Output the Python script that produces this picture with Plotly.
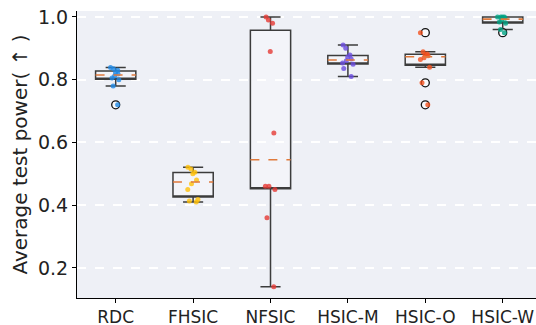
import numpy as np
import plotly.graph_objects as go

methods = ["RDC", "FHSIC", "NFSIC", "HSIC-M", "HSIC-O", "HSIC-W"]
rdc = [0.72, 0.78, 0.80, 0.805, 0.812, 0.818, 0.822, 0.83, 0.835, 0.839]
fhsic = [0.41, 0.413, 0.418, 0.45, 0.468, 0.48, 0.50, 0.505, 0.515, 0.521]
nfsic = [0.14, 0.36, 0.45, 0.46, 0.46, 0.63, 0.89, 0.98, 0.99, 1.0]
hsic_m = [0.81, 0.836, 0.849, 0.853, 0.86, 0.866, 0.872, 0.879, 0.900, 0.911]
hsic_o = [0.72, 0.79, 0.84, 0.864, 0.87, 0.876, 0.88, 0.882, 0.889, 0.95]
hsic_w = [0.95, 0.96, 0.98, 0.984, 0.99, 0.996, 1.0, 1.0, 1.0, 1.0]
series = [rdc, fhsic, nfsic, hsic_m, hsic_o, hsic_w]
colors = ["#1e88e5", "#ffc107", "#e53935", "#6a4ce0", "#f4511e", "#00a383"]
yticks = [0.2, 0.4, 0.6, 0.8, 1.0]

BW = 0.52
BG = "#eef0f6"
fig = go.Figure()
clear = "rgba(0,0,0,0)"

for i, vals in enumerate(series):
    v = np.array(vals)
    q1, med, q3 = np.percentile(v, [25, 50, 75])
    iqr = q3 - q1
    inside = v[(v >= q1 - 1.5 * iqr) & (v <= q3 + 1.5 * iqr)]
    lf, uf = inside.min(), inside.max()
    out = v[(v < lf) | (v > uf)]
    # box + whiskers
    fig.add_trace(go.Box(
        x=[i], q1=[q1], median=[q1], q3=[q3], lowerfence=[lf], upperfence=[uf],
        width=BW, whiskerwidth=0.5, boxpoints=False,
        fillcolor="rgba(255,255,255,0.3)", line=dict(color="#3c3c3c", width=1.5),
        showlegend=False, hoverinfo="skip"))
    # median (dashed)
    fig.add_trace(go.Scatter(
        x=[i - BW / 2, i + BW / 2], y=[med, med], mode="lines",
        line=dict(color="#e07a3c", width=1.6, dash="dash"),
        showlegend=False, hoverinfo="skip"))
    # outlier circles (box layer, drawn beneath the sample points)
    if len(out):
        fig.add_trace(go.Box(
            x=[i] * len(out), y=out, boxpoints="all", jitter=0, pointpos=0,
            width=BW, fillcolor=clear, line=dict(color=clear, width=0),
            marker=dict(symbol="circle", size=8, color="rgba(255,255,255,0.6)",
                        line=dict(color="#111", width=1.3)),
            showlegend=False, hoverinfo="skip"))

for i, vals in enumerate(series):
    # jittered sample points
    fig.add_trace(go.Box(
        x=[i] * len(vals), y=vals, boxpoints="all", jitter=0.35, pointpos=0,
        width=BW, fillcolor=clear, line=dict(color=clear, width=0),
        marker=dict(color=colors[i], size=5, opacity=0.8),
        showlegend=False, hoveron="points"))

fig.update_layout(
    width=536, height=325,
    margin=dict(l=77, r=0, t=11, b=27),
    paper_bgcolor="white", plot_bgcolor=BG,
    font=dict(family="DejaVu Sans", size=17, color="#222"),
    boxmode="overlay",
    xaxis=dict(
        range=[-0.5, 5.43], tickmode="array", tickvals=list(range(len(methods))),
        ticktext=methods, showgrid=False, zeroline=False, automargin=False,
        showline=True, linecolor="black", linewidth=1, ticklabelstandoff=0,
        ticks="outside", ticklen=4, tickcolor="black", tickfont=dict(size=17)),
    yaxis=dict(
        range=[0.104, 1.019], tickmode="array", tickvals=yticks,
        ticktext=[f"{t:.1f}" for t in yticks], automargin=False,
        showgrid=True, gridcolor="white", gridwidth=1.5, griddash="dash",
        zeroline=False, showline=True, linecolor="black", linewidth=1,
        ticks="outside", ticklen=4, tickcolor="black", tickfont=dict(size=19),
        title=dict(text="Average test power( ↑ )", font=dict(size=20), standoff=4)),
)

fig.write_html("out.html", config={"displayModeBar": False},
               post_script="document.body.style.margin='0';")
